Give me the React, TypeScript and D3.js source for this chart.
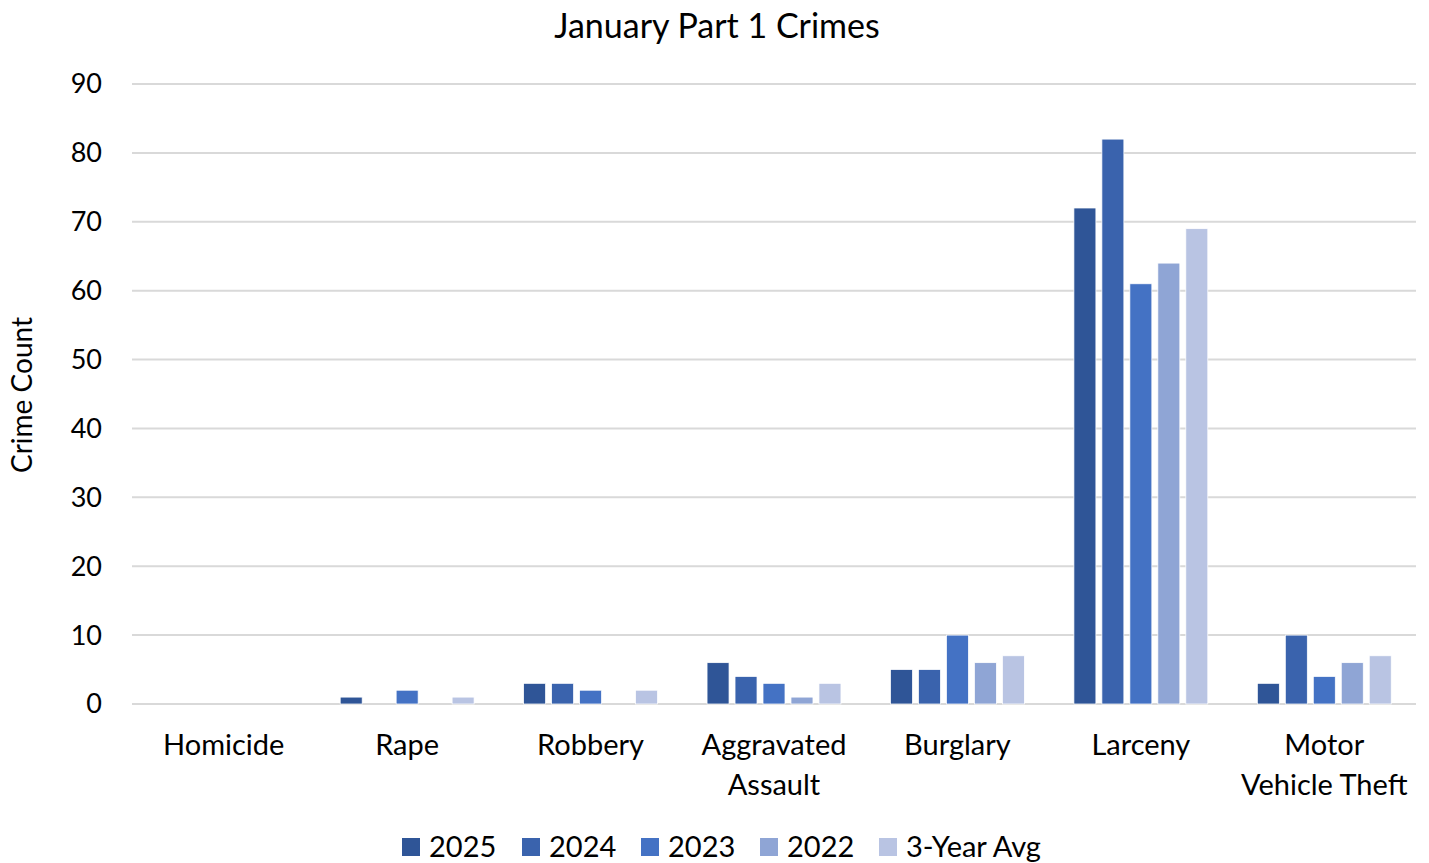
import React, { useEffect, useRef } from "react";
import * as d3 from "d3";

const categories = [
  ["Homicide"],
  ["Rape"],
  ["Robbery"],
  ["Aggravated", "Assault"],
  ["Burglary"],
  ["Larceny"],
  ["Motor", "Vehicle Theft"],
];
const series = ["2025", "2024", "2023", "2022", "3-Year Avg"];
const v2025 = [0, 1, 3, 6, 5, 72, 3];
const v2024 = [0, 0, 3, 4, 5, 82, 10];
const v2023 = [0, 2, 2, 3, 10, 61, 4];
const v2022 = [0, 0, 0, 1, 6, 64, 6];
const vAvg = [0, 1, 2, 3, 7, 69, 7];
const yTicks = [0, 10, 20, 30, 40, 50, 60, 70, 80, 90];
const colors = ["#2F5597", "#3A63AD", "#4472C4", "#8FA5D5", "#B9C4E3"];

const App: React.FC = () => {
  const ref = useRef<SVGSVGElement>(null);

  useEffect(() => {
    document.body.style.margin = "0";
    if (!ref.current) return;
    const svg = d3.select(ref.current);
    svg.selectAll("*").remove();

    const W = 1429;
    const H = 863;
    const margin = { top: 84, right: 13, bottom: 159, left: 132 };
    const width = W - margin.left - margin.right;
    const height = H - margin.top - margin.bottom;
    const font = "Lato, 'Open Sans', sans-serif";

    const values = [v2025, v2024, v2023, v2022, vAvg];
    const names = categories.map((c) => c.join(" "));

    const x0 = d3
      .scaleBand()
      .domain(names)
      .range([0, width])
      .paddingInner(0.27)
      .paddingOuter(0.135);
    const x1 = d3
      .scaleBand()
      .domain(series)
      .range([0, x0.bandwidth()])
      .paddingInner(0.214)
      .paddingOuter(0);
    const y = d3.scaleLinear().domain([0, 90]).range([height, 0]);

    const g = svg
      .append("g")
      .attr("transform", `translate(${margin.left},${margin.top})`);

    // gridlines
    g.selectAll("line.grid")
      .data(yTicks)
      .enter()
      .append("line")
      .attr("x1", 0)
      .attr("x2", width)
      .attr("y1", (d) => y(d))
      .attr("y2", (d) => y(d))
      .attr("stroke", "#d9d9d9")
      .attr("stroke-width", 2);

    // y tick labels
    g.selectAll("text.ytick")
      .data(yTicks)
      .enter()
      .append("text")
      .attr("x", -30)
      .attr("y", (d) => y(d))
      .attr("dy", "0.35em")
      .attr("text-anchor", "end")
      .style("font-family", font)
      .style("font-size", "27px")
      .attr("fill", "#000")
      .text((d) => d);

    // bars
    const groups = g
      .selectAll("g.cat")
      .data(names)
      .enter()
      .append("g")
      .attr("transform", (d) => `translate(${x0(d)},0)`);

    groups
      .selectAll("rect")
      .data((_, i) => series.map((s, j) => ({ s, j, v: values[j][i] })))
      .enter()
      .filter((d) => d.v > 0)
      .append("rect")
      .attr("x", (d) => x1(d.s) || 0)
      .attr("y", (d) => y(d.v))
      .attr("width", x1.bandwidth())
      .attr("height", (d) => height - y(d.v))
      .attr("fill", (d) => colors[d.j])
      .attr("stroke", "#fff")
      .attr("stroke-width", 0.75);

    // category labels
    categories.forEach((lines, i) => {
      const cx = (x0(names[i]) || 0) + x0.bandwidth() / 2;
      lines.forEach((l, k) => {
        g.append("text")
          .attr("x", cx)
          .attr("y", height + 51 + k * 40)
          .attr("text-anchor", "middle")
          .style("font-family", font)
          .style("font-size", "29px")
          .attr("fill", "#000")
          .text(l);
      });
    });

    // title
    svg
      .append("text")
      .attr("x", 717)
      .attr("y", 38)
      .attr("text-anchor", "middle")
      .style("font-family", font)
      .style("font-size", "34px")
      .attr("fill", "#000")
      .text("January Part 1 Crimes");

    // y axis title
    svg
      .append("text")
      .attr("transform", `translate(32,395) rotate(-90)`)
      .attr("text-anchor", "middle")
      .style("font-family", font)
      .style("font-size", "28px")
      .attr("fill", "#000")
      .text("Crime Count");

    // legend
    const legendX = [402, 522, 641, 760, 879];
    const lg = svg
      .selectAll("g.legend")
      .data(series)
      .enter()
      .append("g")
      .attr("transform", (_, i) => `translate(${legendX[i]},838)`);
    lg.append("rect")
      .attr("width", 18)
      .attr("height", 18)
      .attr("fill", (_, i) => colors[i]);
    lg.append("text")
      .attr("x", 27)
      .attr("y", 19)
      .style("font-family", font)
      .style("font-size", "29px")
      .attr("fill", "#000")
      .text((d) => d);
  }, []);

  return <svg ref={ref} width={1429} height={863} style={{ display: "block" }} />;
};

export default App;
